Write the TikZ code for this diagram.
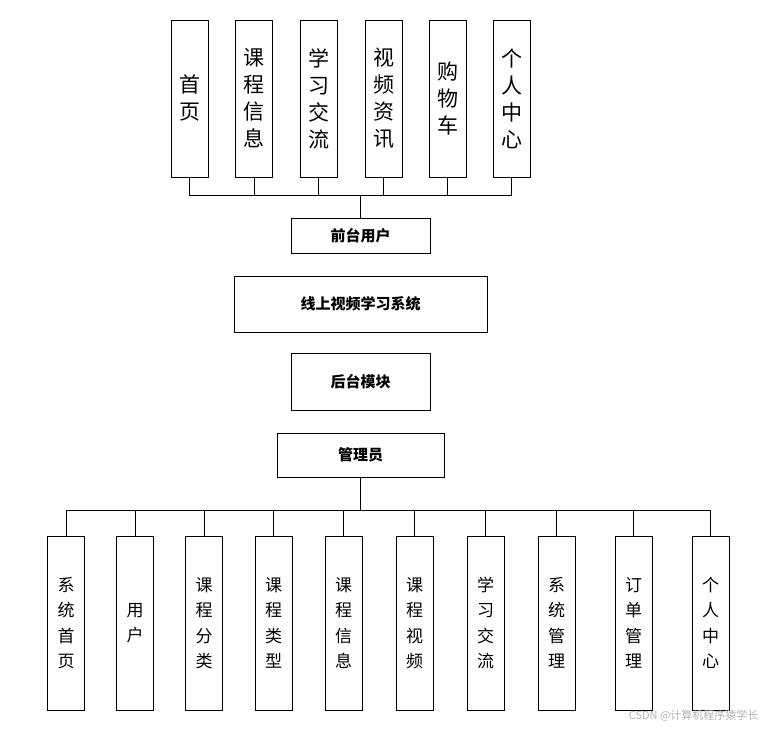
\documentclass[tikz,border=0pt]{standalone}
\usepackage{fontspec}
\newfontfamily\cjk{Noto Sans CJK SC}
\begin{document}
\begin{tikzpicture}[x=1pt,y=-1pt,
 box/.style={draw,line width=1pt,inner sep=0pt,align=center},
 topbox/.style={box,minimum width=37pt,minimum height=157pt,font=\cjk\fontsize{21}{27}\selectfont},
 botbox/.style={box,minimum width=37pt,minimum height=174pt,font=\cjk\fontsize{17}{25.5}\selectfont},
 midbox/.style={box,font=\cjk\bfseries\fontsize{15}{17}\selectfont},
 wire/.style={line width=1pt}]
\useasboundingbox (0,0) rectangle (769,729);
\foreach \n/\x/\t in {t1/189.5/首\\页, t2/254/课\\程\\信\\息, t3/318.5/学\\习\\交\\流, t4/383.5/视\\频\\资\\讯, t5/447.5/购\\物\\车, t6/511.5/个\\人\\中\\心}
  \node[topbox] (\n) at (\x,98.5) {\t};
\node[midbox,minimum width=139pt,minimum height=35pt] (qt) at (360.5,235.5) {前台用户};
\node[midbox,minimum width=253pt,minimum height=56pt] (sys) at (360.5,304) {线上视频学习系统};
\node[midbox,minimum width=139pt,minimum height=57pt] (ht) at (360.5,381.5) {后台模块};
\node[midbox,minimum width=167pt,minimum height=44pt] (adm) at (360.5,455) {管理员};
\foreach \n/\x/\t in {b1/66/系\\统\\首\\页, b2/135/用\\户, b3/204/课\\程\\分\\类, b4/273.5/课\\程\\类\\型, b5/343.5/课\\程\\信\\息, b6/414.5/课\\程\\视\\频, b7/485.5/学\\习\\交\\流, b8/556.5/系\\统\\管\\理, b9/633.5/订\\单\\管\\理, b10/710.5/个\\人\\中\\心}
  \node[botbox] (\n) at (\x,623) {\t};
\coordinate (tb) at (0,195);
\draw[wire] (t1.south) |- (t6.south |- tb) -- (t6.south);
\foreach \n in {t2,t3,t4,t5} \draw[wire] (\n.south) -- (\n.south |- tb);
\draw[wire] (qt.north |- tb) -- (qt.north);
\coordinate (bb) at (0,510);
\draw[wire] (b1.north) |- (b10.north |- bb) -- (b10.north);
\foreach \n in {b2,b3,b4,b5,b6,b7,b8,b9} \draw[wire] (\n.north) -- (\n.north |- bb);
\draw[wire] (adm.south) -- (adm.south |- bb);
\node[font=\cjk\fontsize{11}{13}\selectfont,text=gray!60,anchor=east] (wm) at (762,716) {CSDN @计算机程序猿学长};
\end{tikzpicture}
\end{document}
